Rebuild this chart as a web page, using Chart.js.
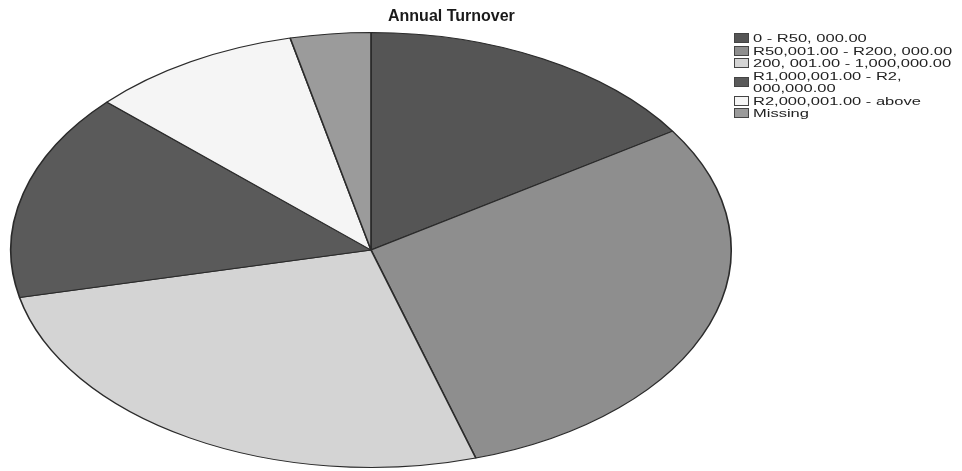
<!DOCTYPE html>
<html>
<head>
<meta charset="utf-8">
<script src="https://cdn.jsdelivr.net/npm/chart.js@4"></script>
<style>
  body { margin: 0; background: #fff; }
  #wrap { position: relative; width: 962px; height: 471px; }
  #title {
    position: absolute; left: 388px; top: 7px;
    font: bold 16px "Liberation Sans", Arial, sans-serif; color: #1a1a1a;
    white-space: nowrap;
  }
  #legend { position: absolute; left: 734px; top: 32px; }
  .item { display: flex; align-items: center; }
  .box { width: 15px; height: 10px; border: 1px solid #444; box-sizing: border-box; margin-right: 4px; flex: none; }
  .txt {
    font: 11px "Liberation Sans", Arial, sans-serif; line-height: 12.5px; color: #222;
    white-space: pre; transform: scaleX(1.5); transform-origin: left center;
  }
</style>
</head>
<body>
<div id="wrap">
  <canvas id="turnoverChart" width="962" height="471"></canvas>
  <div id="title">Annual Turnover</div>
  <div id="legend"></div>
</div>
<script>
const categories = [
  '0 - R50, 000.00',
  'R50,001.00 - R200, 000.00',
  '200, 001.00 - 1,000,000.00',
  'R1,000,001.00 - R2,\n000,000.00',
  'R2,000,001.00 - above',
  'Missing'
];
const shares = [15.8, 29.5, 26.2, 15.4, 9.5, 3.6];
const sliceColors = ['#555555', '#8e8e8e', '#d4d4d4', '#5a5a5a', '#f5f5f5', '#9b9b9b'];

// pie is drawn as a circle by Chart.js, then stretched sideways into an ellipse
const STRETCH_X = 1.656;

const stretchPie = {
  id: 'stretchPie',
  beforeDatasetsDraw(chart) {
    const arc = chart.getDatasetMeta(0).data[0];
    const ctx = chart.ctx;
    ctx.save();
    ctx.translate(arc.x, arc.y);
    ctx.scale(STRETCH_X, 1);
    ctx.translate(-arc.x, -arc.y);
  },
  afterDatasetsDraw(chart) {
    chart.ctx.restore();
  }
};

function renderLegend() {
  const legend = document.getElementById('legend');
  legend.innerHTML = categories.map((c, i) =>
    `<div class="item"><span class="box" style="background:${sliceColors[i]}"></span><span class="txt">${c}</span></div>`
  ).join('');
}

renderLegend();

new Chart(document.getElementById('turnoverChart'), {
  type: 'pie',
  data: {
    labels: categories,
    datasets: [{
      data: shares,
      backgroundColor: sliceColors,
      borderColor: '#2b2b2b',
      borderWidth: 1
    }]
  },
  options: {
    responsive: false,
    animation: false,
    layout: { padding: { left: 153, right: 373, top: 32, bottom: 3 } },
    plugins: {
      legend: { display: false },
      title: { display: false },
      tooltip: { enabled: false }
    }
  },
  plugins: [stretchPie]
});
</script>
</body>
</html>
